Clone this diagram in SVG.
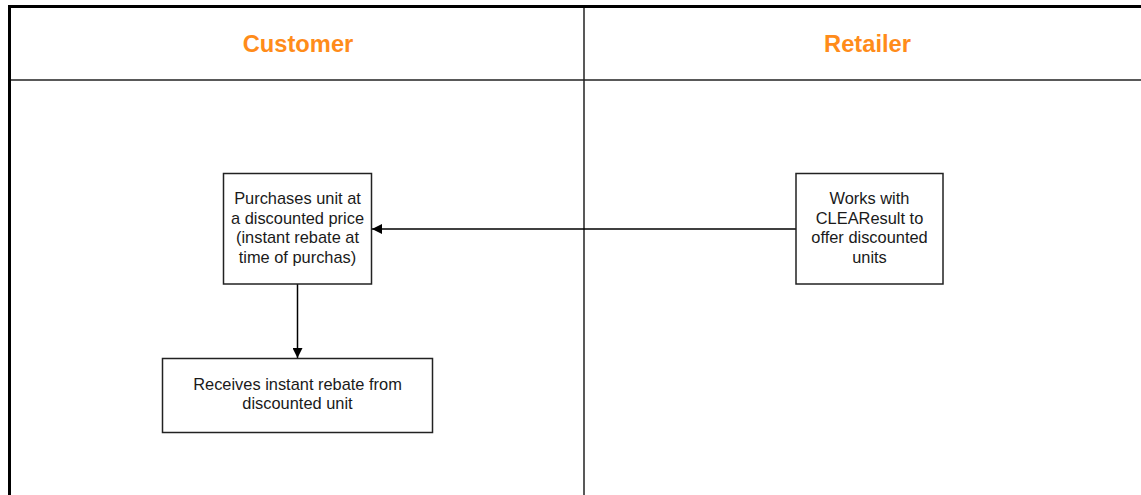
<svg xmlns="http://www.w3.org/2000/svg" width="1141" height="495" viewBox="0 0 1141 495">
<style>
.lane{fill:none;stroke:#222;stroke-width:1.5}
.frame{fill:none;stroke:#000;stroke-width:3}
.hdr{font-family:"Liberation Sans",Arial,sans-serif;font-weight:bold;font-size:23.7px;fill:#FF8C1A;text-anchor:middle}
.box{fill:#fff;stroke:#222;stroke-width:1.5}
.t{font-family:"Liberation Sans",Arial,sans-serif;font-size:16.4px;fill:#1a1a1a;text-anchor:middle}
.conn{fill:none;stroke:#000;stroke-width:1.5}
</style>
<defs>
<marker id="arr" viewBox="0 0 10 10" refX="10" refY="5" markerWidth="10" markerHeight="10" markerUnits="userSpaceOnUse" orient="auto">
<path d="M0,0 L10,5 L0,10 Z" fill="#000"/>
</marker>
</defs>
<rect width="1141" height="495" fill="#fff"/>
<g id="swimlanes">
<line class="lane" x1="10" y1="80" x2="1141" y2="80"/>
<line class="lane" x1="584" y1="6" x2="584" y2="495"/>
<line class="frame" x1="8" y1="6.5" x2="1141" y2="6.5"/>
<line class="frame" x1="9.5" y1="5" x2="9.5" y2="495"/>
<text class="hdr" x="298" y="51.5">Customer</text>
<text class="hdr" x="867.5" y="51.5">Retailer</text>
</g>
<g id="connectors">
<line class="conn" x1="796" y1="229" x2="372" y2="229" marker-end="url(#arr)"/>
<line class="conn" x1="297.5" y1="284" x2="297.5" y2="358" marker-end="url(#arr)"/>
</g>
<g id="purchases">
<rect class="box" x="223.5" y="173.5" width="148" height="110.5"/>
<text class="t" x="297.5" y="203.5">Purchases unit at</text>
<text class="t" x="297.5" y="223.5">a discounted price</text>
<text class="t" x="297.5" y="243">(instant rebate at</text>
<text class="t" x="297.5" y="262.5">time of purchas)</text>
</g>
<g id="receives">
<rect class="box" x="162.5" y="358.5" width="270" height="74"/>
<text class="t" x="297.5" y="390">Receives instant rebate from</text>
<text class="t" x="297.5" y="409">discounted unit</text>
</g>
<g id="works">
<rect class="box" x="796" y="173.5" width="147" height="110.5"/>
<text class="t" x="869.5" y="203.5">Works with</text>
<text class="t" x="869.5" y="223.5">CLEAResult to</text>
<text class="t" x="869.5" y="243">offer discounted</text>
<text class="t" x="869.5" y="262.5">units</text>
</g>
</svg>
